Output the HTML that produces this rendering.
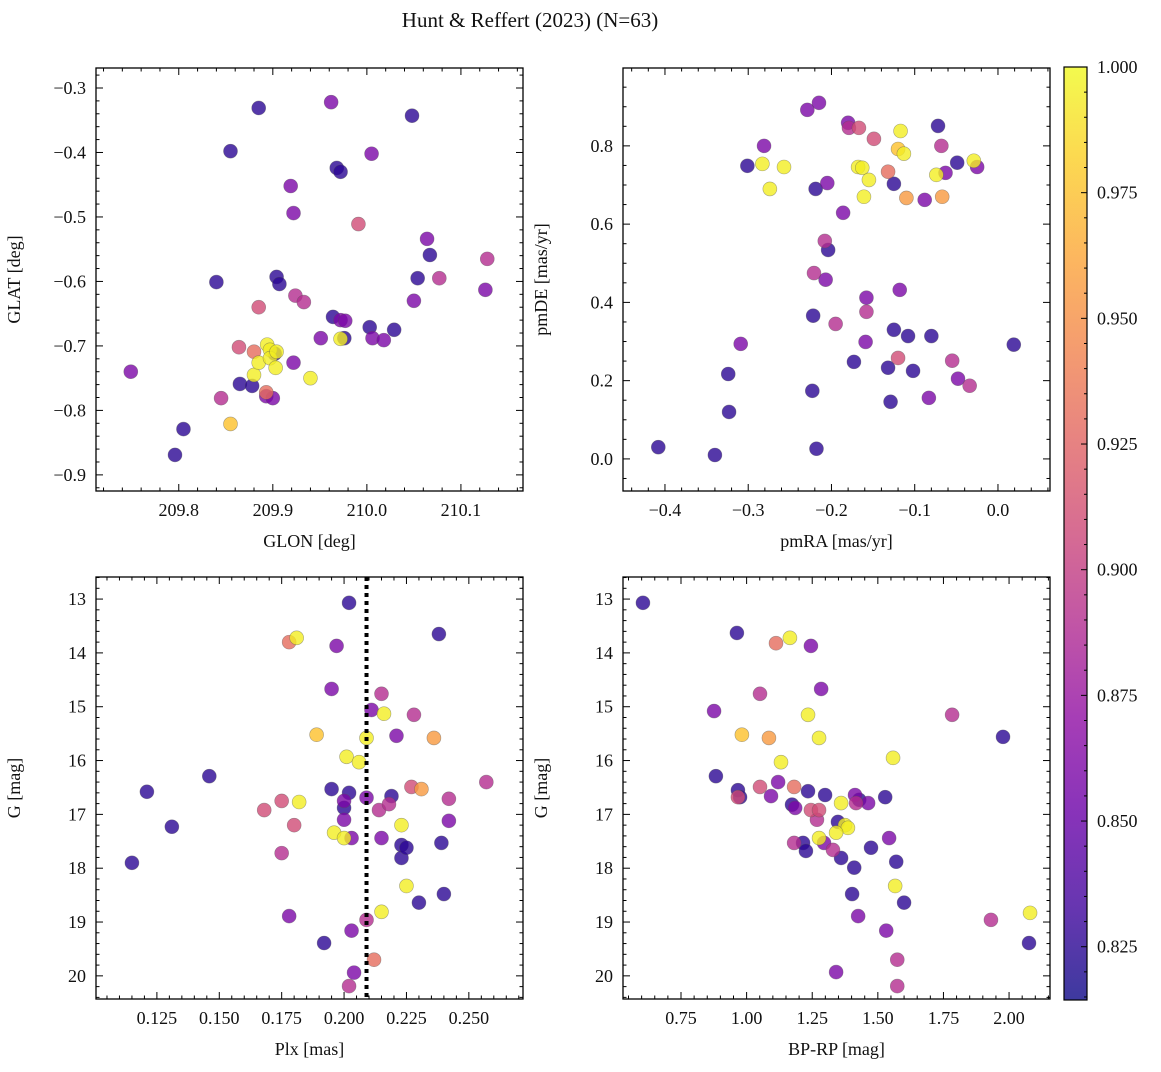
<!DOCTYPE html>
<html><head><meta charset="utf-8"><style>
body{margin:0;background:#fff;}
svg text{font-family:"Liberation Serif","DejaVu Serif",serif;fill:#111;}
</style></head><body>
<svg id="fig" width="1161" height="1067" viewBox="0 0 1161 1067" xmlns="http://www.w3.org/2000/svg">
<text x="530" y="27" text-anchor="middle" font-size="21">Hunt &amp; Reffert (2023) (N=63)</text>
</svg>
<script>
// ---- data (p = membership probability) ----
const p1x=[209.749,209.805,209.796,209.840,209.855,209.885,209.845,209.855,209.864,209.865,209.878,209.880,209.885,209.880,209.885,209.893,209.893,209.900,209.894,209.897,209.902,209.897,209.904,209.903,209.904,209.907,209.919,209.922,209.924,209.933,209.922,209.940,209.951,209.962,209.968,209.972,209.964,209.972,209.977,209.972,209.976,209.991,210.005,210.003,210.006,210.018,210.029,210.048,210.064,210.054,210.067,210.050,210.077,210.128,210.126];
const p1y=[-0.740,-0.829,-0.869,-0.601,-0.398,-0.331,-0.781,-0.821,-0.702,-0.759,-0.762,-0.709,-0.640,-0.745,-0.726,-0.778,-0.772,-0.781,-0.698,-0.706,-0.712,-0.719,-0.709,-0.734,-0.593,-0.604,-0.452,-0.494,-0.622,-0.632,-0.726,-0.750,-0.688,-0.322,-0.424,-0.430,-0.655,-0.660,-0.661,-0.689,-0.688,-0.511,-0.402,-0.671,-0.688,-0.691,-0.675,-0.343,-0.534,-0.595,-0.559,-0.630,-0.595,-0.565,-0.613];
const p1p=[0.86,0.825,0.825,0.825,0.825,0.825,0.89,0.975,0.91,0.825,0.825,0.93,0.91,0.995,0.995,0.86,0.93,0.86,0.995,0.995,0.825,0.995,0.995,0.995,0.825,0.825,0.86,0.86,0.89,0.89,0.86,0.995,0.86,0.86,0.825,0.825,0.825,0.86,0.86,0.995,0.825,0.91,0.86,0.825,0.86,0.86,0.825,0.825,0.86,0.825,0.825,0.86,0.89,0.89,0.86];

const p2x=[-0.408,-0.340,-0.323,-0.324,-0.309,-0.301,-0.281,-0.283,-0.274,-0.257,-0.229,-0.215,-0.219,-0.205,-0.208,-0.204,-0.221,-0.207,-0.186,-0.180,-0.179,-0.167,-0.149,-0.168,-0.163,-0.155,-0.161,-0.132,-0.125,-0.120,-0.117,-0.113,-0.110,-0.088,-0.072,-0.068,-0.074,-0.063,-0.067,-0.049,-0.029,-0.025,-0.223,-0.218,-0.222,-0.173,-0.159,-0.158,-0.158,-0.195,-0.132,-0.129,-0.125,-0.120,-0.118,-0.108,-0.102,-0.080,-0.083,-0.055,-0.048,-0.034,0.019];
const p2y=[0.030,0.010,0.120,0.217,0.294,0.749,0.800,0.754,0.690,0.746,0.892,0.910,0.690,0.705,0.557,0.534,0.475,0.458,0.629,0.859,0.846,0.846,0.818,0.746,0.744,0.713,0.670,0.734,0.703,0.792,0.838,0.780,0.667,0.662,0.851,0.800,0.726,0.731,0.670,0.757,0.762,0.746,0.174,0.026,0.366,0.248,0.299,0.376,0.412,0.345,0.233,0.146,0.330,0.258,0.432,0.314,0.225,0.314,0.156,0.251,0.205,0.187,0.292];
const p2p=[0.825,0.825,0.825,0.825,0.86,0.825,0.86,0.995,0.995,0.995,0.86,0.86,0.825,0.86,0.89,0.825,0.89,0.86,0.86,0.86,0.89,0.91,0.91,0.995,0.995,0.995,0.995,0.93,0.825,0.975,0.995,0.995,0.955,0.86,0.825,0.89,0.995,0.86,0.955,0.825,0.995,0.86,0.825,0.825,0.825,0.825,0.86,0.89,0.86,0.89,0.825,0.825,0.825,0.91,0.86,0.825,0.825,0.825,0.86,0.89,0.86,0.89,0.825];

const p3x=[0.115,0.121,0.131,0.146,0.168,0.175,0.175,0.178,0.178,0.181,0.180,0.182,0.202,0.197,0.195,0.189,0.201,0.206,0.195,0.200,0.202,0.200,0.196,0.200,0.200,0.203,0.192,0.203,0.204,0.202,0.209,0.209,0.209,0.212,0.211,0.215,0.216,0.214,0.215,0.215,0.218,0.219,0.221,0.228,0.223,0.223,0.223,0.225,0.227,0.231,0.225,0.230,0.236,0.238,0.239,0.240,0.242,0.242,0.257];
const p3y=[17.90,16.58,17.23,16.29,16.92,16.75,17.72,18.89,13.80,13.72,17.20,16.77,13.07,13.87,14.67,15.52,15.93,16.03,16.53,16.75,16.60,16.88,17.34,17.44,17.10,17.44,19.39,19.16,19.94,20.19,15.58,16.69,18.96,19.70,15.06,14.76,15.13,16.92,17.44,18.81,16.81,16.66,15.54,15.15,17.57,17.81,17.20,17.62,16.49,16.53,18.33,18.64,15.58,13.65,17.53,18.48,16.71,17.12,16.40];
const p3p=[0.825,0.825,0.825,0.825,0.91,0.91,0.89,0.86,0.93,0.995,0.91,0.995,0.825,0.86,0.86,0.975,0.995,0.995,0.825,0.86,0.825,0.825,0.995,0.995,0.86,0.86,0.825,0.86,0.86,0.89,0.995,0.86,0.89,0.93,0.86,0.89,0.995,0.89,0.86,0.995,0.89,0.825,0.86,0.89,0.825,0.825,0.995,0.825,0.91,0.955,0.995,0.825,0.955,0.825,0.825,0.825,0.89,0.86,0.89];

const p4x=[0.605,0.963,1.112,1.165,1.245,1.284,1.051,0.876,1.234,0.982,1.085,1.276,1.131,1.558,1.783,1.977,0.883,0.967,0.975,0.967,1.051,1.093,1.120,1.181,1.234,1.173,1.185,1.245,1.276,1.299,1.268,1.276,1.295,1.215,1.181,1.226,1.360,1.413,1.429,1.417,1.463,1.528,1.348,1.375,1.386,1.341,1.329,1.360,1.410,1.543,1.474,1.570,1.402,1.425,1.566,1.600,1.532,1.931,2.080,2.076,1.341,1.574,1.574];
const p4y=[13.07,13.63,13.82,13.72,13.87,14.67,14.76,15.08,15.15,15.52,15.58,15.58,16.03,15.95,15.15,15.56,16.29,16.55,16.68,16.68,16.49,16.66,16.40,16.49,16.57,16.82,16.88,16.92,16.92,16.64,17.10,17.44,17.53,17.53,17.53,17.68,16.79,16.64,16.73,16.79,16.79,16.68,17.14,17.20,17.25,17.34,17.66,17.81,17.99,17.44,17.62,17.88,18.48,18.89,18.33,18.64,19.16,18.96,18.83,19.39,19.93,19.70,20.19];
const p4p=[0.825,0.825,0.93,0.995,0.86,0.86,0.89,0.86,0.995,0.975,0.955,0.995,0.995,0.995,0.89,0.825,0.825,0.825,0.825,0.91,0.91,0.86,0.86,0.93,0.825,0.825,0.86,0.91,0.91,0.825,0.89,0.995,0.86,0.825,0.89,0.825,0.995,0.86,0.825,0.89,0.86,0.825,0.825,0.995,0.995,0.995,0.89,0.825,0.825,0.86,0.825,0.825,0.825,0.86,0.995,0.825,0.86,0.89,0.995,0.825,0.86,0.89,0.89];

const cbTicks=[0.825,0.850,0.875,0.900,0.925,0.950,0.975,1.000];
const pMin=0.8144, pMax=1.0;
const plxRef=0.209;

const plasma=["#0d0887","#41049d","#6a00a8","#8f0da4","#b12a90","#cc4778","#e16462","#f2844b","#fca636","#fcce25","#f0f921"];
function hex(h){return [1,3,5].map(i=>parseInt(h.substr(i,2),16));}
function cmap(v){let t=Math.max(0,Math.min(1,(v-pMin)/(pMax-pMin)))*10;let i=Math.min(9,Math.floor(t)),f=t-i;const a=hex(plasma[i]),b=hex(plasma[i+1]);return 'rgb('+a.map((c,k)=>Math.round(c+(b[k]-c)*f)).join(',')+')';}

const svg=document.getElementById('fig');const NS='http://www.w3.org/2000/svg';
function el(tag,attrs,parent){const e=document.createElementNS(NS,tag);for(const k in attrs)e.setAttribute(k,attrs[k]);(parent||svg).appendChild(e);return e;}

function panel(cfg){
  const {L,T,R,B,x0,x1,y0,y1,xs,ys,ps,xMaj,xMin,yMaj,yMin,xDec,yDec,xlab,ylab,name,invert,vline}=cfg;
  const g=el('g',{});
  
  
  const X=v=>L+(v-x0)/(x1-x0)*(R-L);
  const Y=invert?(v=>T+(v-y0)/(y1-y0)*(B-T)):(v=>B-(v-y0)/(y1-y0)*(B-T));
  const clip='clip-'+name;
  const cp=el('clipPath',{id:clip},g);el('rect',{x:L,y:T,width:R-L,height:B-T},cp);
  const pts=el('g',{'clip-path':'url(#'+clip+')'},g);
  
  
  const idx=xs.map((_,i)=>i).sort((a,b)=>ps[a]-ps[b]);
  idx.forEach(i=>{const c=el('circle',{cx:X(xs[i]),cy:Y(ys[i]),r:7,fill:cmap(ps[i]),'fill-opacity':0.8,stroke:'#555','stroke-opacity':0.5,'stroke-width':0.6},pts);
    
    });
  if(vline!==undefined){const l=el('line',{x1:X(vline),x2:X(vline),y1:T,y2:B,stroke:'#000','stroke-width':4,'stroke-dasharray':'4,4'},pts);
    
    }
  el('rect',{x:L,y:T,width:R-L,height:B-T,fill:'none',stroke:'#000','stroke-width':1.3},g);
  const tk=el('g',{stroke:'#000','stroke-width':1},g);
  const eps=1e-9;
  for(let v=Math.ceil(x0/xMin-eps)*xMin;v<=x1+eps;v+=xMin){const px=X(v);const maj=Math.abs(v/xMaj-Math.round(v/xMaj))<1e-4;const len=maj?7:3.5;
    el('line',{x1:px,x2:px,y1:B,y2:B-len},tk);el('line',{x1:px,x2:px,y1:T,y2:T+len},tk);
    if(maj){const t=el('text',{x:px,y:B+25,'text-anchor':'middle','font-size':18},g);t.textContent=(Math.abs(v)<1e-9?0:v).toFixed(xDec).replace('-','\u2212');
      
      }}
  const ylo=Math.min(y0,y1),yhi=Math.max(y0,y1);
  for(let v=Math.ceil(ylo/yMin-eps)*yMin;v<=yhi+eps;v+=yMin){const py=Y(v);const maj=Math.abs(v/yMaj-Math.round(v/yMaj))<1e-4;const len=maj?7:3.5;
    el('line',{x1:L,x2:L+len,y1:py,y2:py},tk);el('line',{x1:R,x2:R-len,y1:py,y2:py},tk);
    if(maj){const t=el('text',{x:L-10,y:py+6,'text-anchor':'end','font-size':18},g);t.textContent=(Math.abs(v)<1e-9?0:v).toFixed(yDec).replace('-','\u2212');
      
      }}
  const xl=el('text',{x:(L+R)/2,y:B+56,'text-anchor':'middle','font-size':18},g);xl.textContent=xlab;
  
  
  const yx=L-76;const yl=el('text',{x:yx,y:(T+B)/2,'text-anchor':'middle','font-size':18,transform:'rotate(-90 '+yx+' '+(T+B)/2+')'},g);yl.textContent=ylab;
  
  
}
panel({name:'glon-glat-panel',L:96,T:68,R:523,B:491,x0:209.712,x1:210.166,y0:-0.925,y1:-0.269,xs:p1x,ys:p1y,ps:p1p,xMaj:0.1,xMin:0.02,yMaj:0.1,yMin:0.02,xDec:1,yDec:1,xlab:'GLON [deg]',ylab:'GLAT [deg]'});
panel({name:'proper-motion-panel',L:623,T:68,R:1050,B:491,x0:-0.4504,x1:0.0625,y0:-0.082,y1:0.999,xs:p2x,ys:p2y,ps:p2p,xMaj:0.1,xMin:0.02,yMaj:0.2,yMin:0.05,xDec:1,yDec:1,xlab:'pmRA [mas/yr]',ylab:'pmDE [mas/yr]'});
panel({name:'plx-g-panel',L:96,T:577,R:523,B:999,x0:0.1006,x1:0.2717,y0:12.59,y1:20.43,invert:true,xs:p3x,ys:p3y,ps:p3p,xMaj:0.025,xMin:0.005,yMaj:1,yMin:0.2,xDec:3,yDec:0,xlab:'Plx [mas]',ylab:'G [mag]',vline:plxRef});
panel({name:'cmd-panel',L:623,T:577,R:1050,B:999,x0:0.529,x1:2.156,y0:12.59,y1:20.43,invert:true,xs:p4x,ys:p4y,ps:p4p,xMaj:0.25,xMin:0.05,yMaj:1,yMin:0.2,xDec:2,yDec:0,xlab:'BP-RP [mag]',ylab:'G [mag]'});

// colorbar
const cb=el('g',{});


const CL=1064,CR=1087,CT=67,CB=1000;
const defs=el('defs',{},cb);const lg=el('linearGradient',{id:'cbg',x1:0,y1:1,x2:0,y2:0},defs);
plasma.forEach((c,i)=>el('stop',{offset:i/10,'stop-color':c},lg));
el('rect',{x:CL,y:CT,width:CR-CL,height:CB-CT,fill:'url(#cbg)','fill-opacity':0.8},cb);
el('rect',{x:CL,y:CT,width:CR-CL,height:CB-CT,fill:'none',stroke:'#000','stroke-width':1.2},cb);
const CY=v=>CB-(v-pMin)/(pMax-pMin)*(CB-CT);
for(let v=0.815;v<=1.0001;v+=0.005){const maj=cbTicks.some(t=>Math.abs(t-v)<1e-4);el('line',{x1:CR,x2:CR-(maj?6:3),y1:CY(v),y2:CY(v),stroke:'#000','stroke-width':1},cb);}
cbTicks.forEach(v=>{const t=el('text',{x:CR+10,y:CY(v)+6,'font-size':18},cb);t.textContent=v.toFixed(3);
  
  });
</script>
</body></html>
